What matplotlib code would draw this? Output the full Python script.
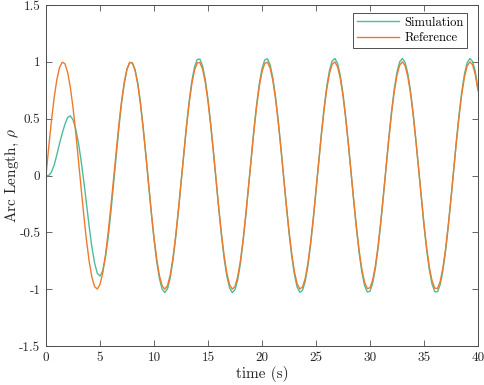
import numpy as np
import matplotlib
matplotlib.use("Agg")
import matplotlib.pyplot as plt

plt.rcParams['font.family'] = 'serif'
plt.rcParams['font.serif'] = ['cmr10', 'DejaVu Serif']
plt.rcParams['mathtext.fontset'] = 'cm'
plt.rcParams['axes.unicode_minus'] = False

# time grid, 0.25 s steps
t = np.linspace(0, 40, 161)

# values
reference = [
    0.000, 0.247, 0.479, 0.682, 0.841, 0.949, 0.997, 0.984, 0.909, 0.778, 0.598, 0.382, 0.141,
    -0.108, -0.351, -0.572, -0.757, -0.895, -0.978, -0.999, -0.959, -0.859, -0.706, -0.508, -0.279, -0.033,
    0.215, 0.450, 0.657, 0.823, 0.938, 0.995, 0.989, 0.923, 0.799, 0.625, 0.412, 0.174,
    -0.075, -0.320, -0.544, -0.735, -0.880, -0.970, -1.000, -0.968, -0.875, -0.729, -0.537, -0.311, -0.066,
    0.183, 0.420, 0.632, 0.804, 0.926, 0.991, 0.994, 0.935, 0.818, 0.650, 0.442, 0.207,
    -0.042, -0.288, -0.516, -0.712, -0.863, -0.961, -1.000, -0.976, -0.891, -0.751, -0.564, -0.343, -0.099,
    0.150, 0.390, 0.605, 0.784, 0.913, 0.986, 0.997, 0.946, 0.837, 0.675, 0.472, 0.239,
    -0.009, -0.256, -0.487, -0.688, -0.846, -0.952, -0.998, -0.982, -0.906, -0.773, -0.591, -0.374, -0.132,
    0.117, 0.359, 0.579, 0.763, 0.899, 0.979, 0.999, 0.956, 0.854, 0.699, 0.501, 0.271,
    0.024, -0.224, -0.458, -0.664, -0.828, -0.941, -0.995, -0.988, -0.919, -0.793, -0.618, -0.404, -0.165,
    0.084, 0.328, 0.551, 0.741, 0.884, 0.972, 1.000, 0.966, 0.871, 0.723, 0.529, 0.303,
    0.057, -0.191, -0.428, -0.639, -0.809, -0.929, -0.992, -0.993, -0.932, -0.813, -0.644, -0.434, -0.198,
    0.051, 0.296, 0.523, 0.718, 0.868, 0.964, 1.000, 0.974, 0.887, 0.745,
]

simulation = [
    0.000, 0.000, 0.030, 0.090, 0.180, 0.280, 0.370, 0.450, 0.510, 0.525, 0.490, 0.410, 0.290,
    0.130, -0.050, -0.250, -0.450, -0.630, -0.770, -0.860, -0.885, -0.840, -0.720, -0.550, -0.330, -0.080,
    0.170, 0.420, 0.640, 0.810, 0.935, 0.995, 0.990, 0.930, 0.815, 0.638, 0.422, 0.179,
    -0.077, -0.330, -0.560, -0.757, -0.906, -0.999, -1.030, -0.997, -0.901, -0.751, -0.553, -0.320, -0.068,
    0.188, 0.433, 0.651, 0.828, 0.954, 1.021, 1.024, 0.963, 0.843, 0.670, 0.455, 0.213,
    -0.043, -0.297, -0.531, -0.733, -0.889, -0.990, -1.030, -1.005, -0.918, -0.774, -0.581, -0.353, -0.102,
    0.155, 0.402, 0.623, 0.808, 0.940, 1.016, 1.027, 0.974, 0.862, 0.695, 0.486, 0.246,
    -0.009, -0.264, -0.502, -0.709, -0.871, -0.981, -1.028, -1.011, -0.933, -0.796, -0.609, -0.385, -0.136,
    0.121, 0.370, 0.596, 0.786, 0.926, 1.008, 1.029, 0.985, 0.880, 0.720, 0.516, 0.279,
    0.025, -0.231, -0.472, -0.684, -0.853, -0.969, -1.025, -1.018, -0.947, -0.817, -0.637, -0.416, -0.170,
    0.087, 0.338, 0.568, 0.763, 0.911, 1.001, 1.030, 0.995, 0.897, 0.745, 0.545, 0.312,
    0.059, -0.197, -0.441, -0.658, -0.833, -0.957, -1.022, -1.023, -0.960, -0.837, -0.663, -0.447, -0.204,
    0.053, 0.305, 0.539, 0.740, 0.894, 0.993, 1.030, 1.003, 0.914, 0.767,
]

xticks = [0, 5, 10, 15, 20, 25, 30, 35, 40]
yticks = [-1.5, -1, -0.5, 0, 0.5, 1, 1.5]
ytick_labels = ['-1.5', '-1', '-0.5', '0', '0.5', '1', '1.5']

fig = plt.figure(figsize=(4.84, 3.85), dpi=100)
ax = fig.add_axes([46 / 484, 1 - 346 / 385, 432 / 484, 341 / 385])

ax.plot(t, simulation, color='#4cbc9c', lw=1.0, label='Simulation')
ax.plot(t, reference, color='#ef7a2c', lw=1.0, label='Reference')

ax.set_xlim(0, 40)
ax.set_ylim(-1.5, 1.5)
ax.set_xticks(xticks)
ax.set_xticklabels([str(v) for v in xticks])
ax.set_yticks(yticks)
ax.set_yticklabels(ytick_labels)

axcol = '0.3'
for s in ax.spines.values():
    s.set_color(axcol)
    s.set_linewidth(0.7)
ax.tick_params(direction='in', top=True, right=True, length=4, width=0.6,
               color=axcol, labelcolor='0.15', labelsize=9.5, pad=4)

ax.set_xlabel('time (s)', fontsize=11, color='0.15', labelpad=2)
ax.set_ylabel(r'Arc Length, $\rho$', fontsize=11, color='0.15')
ax.yaxis.set_label_coords(-0.057, 0.5)

leg = ax.legend(loc='upper right', bbox_to_anchor=(0.975, 0.977), fontsize=9,
                fancybox=False, edgecolor='0.2', framealpha=1, handlelength=3.4,
                handletextpad=0.4, borderpad=0.3, labelspacing=0.25, borderaxespad=0)
leg.get_frame().set_linewidth(0.6)

fig.savefig('out.png', dpi=100)
